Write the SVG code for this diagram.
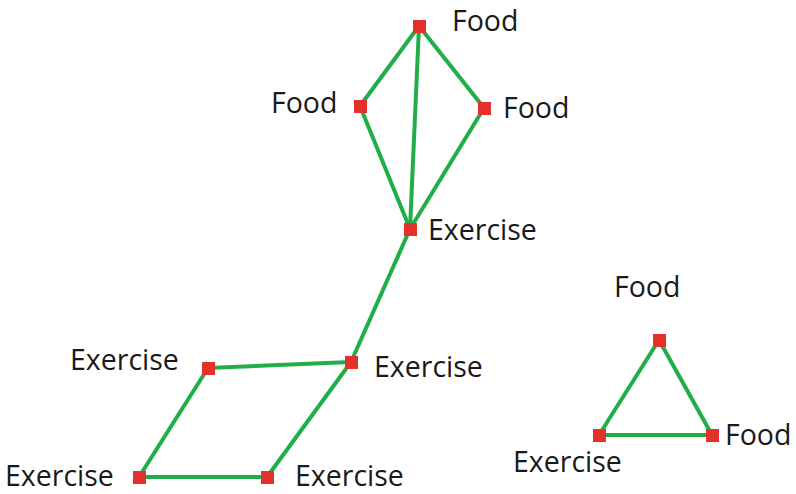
<svg xmlns="http://www.w3.org/2000/svg" width="796" height="494" viewBox="0 0 796 494">
<style>
.e{stroke:#1fae47;stroke-width:4;fill:none;stroke-linecap:round}
.n{fill:#e5312b}
text{font-family:"Open Sans","Noto Sans",sans-serif;font-size:28.5px;fill:#1a1a1a}
</style>
<rect width="796" height="494" fill="#fff"/>
<g id="edges">
<line class="e" x1="419" y1="26" x2="360" y2="106"/>
<line class="e" x1="419" y1="26" x2="484" y2="108"/>
<line class="e" x1="419" y1="26" x2="410" y2="229"/>
<line class="e" x1="360" y1="106" x2="410" y2="229"/>
<line class="e" x1="484" y1="108" x2="410" y2="229"/>
<line class="e" x1="410" y1="229" x2="351" y2="362"/>
<line class="e" x1="351" y1="362" x2="208" y2="368"/>
<line class="e" x1="351" y1="362" x2="267" y2="477"/>
<line class="e" x1="208" y1="368" x2="139" y2="477"/>
<line class="e" x1="139" y1="477" x2="267" y2="477"/>
<line class="e" x1="659" y1="340" x2="599" y2="435"/>
<line class="e" x1="659" y1="340" x2="712" y2="435"/>
<line class="e" x1="599" y1="435" x2="712" y2="435"/>
</g>
<g id="f1"><rect class="n" x="413" y="20" width="13" height="13"/><text x="452" y="31">Food</text></g>
<g id="f2"><rect class="n" x="354" y="100" width="13" height="13"/><text x="271" y="113">Food</text></g>
<g id="f3"><rect class="n" x="478" y="102" width="13" height="13"/><text x="503" y="118">Food</text></g>
<g id="e1"><rect class="n" x="404" y="223" width="13" height="13"/><text x="428" y="240">Exercise</text></g>
<g id="e2"><rect class="n" x="345" y="356" width="13" height="13"/><text x="374" y="377">Exercise</text></g>
<g id="e3"><rect class="n" x="202" y="362" width="13" height="13"/><text x="70" y="370">Exercise</text></g>
<g id="e4"><rect class="n" x="133" y="471" width="13" height="13"/><text x="5" y="486">Exercise</text></g>
<g id="e5"><rect class="n" x="261" y="471" width="13" height="13"/><text x="295" y="486">Exercise</text></g>
<g id="f4"><rect class="n" x="653" y="334" width="13" height="13"/><text x="614" y="297">Food</text></g>
<g id="f5"><rect class="n" x="706" y="429" width="13" height="13"/><text x="725" y="445">Food</text></g>
<g id="e6"><rect class="n" x="593" y="429" width="13" height="13"/><text x="513" y="472">Exercise</text></g>
</svg>
